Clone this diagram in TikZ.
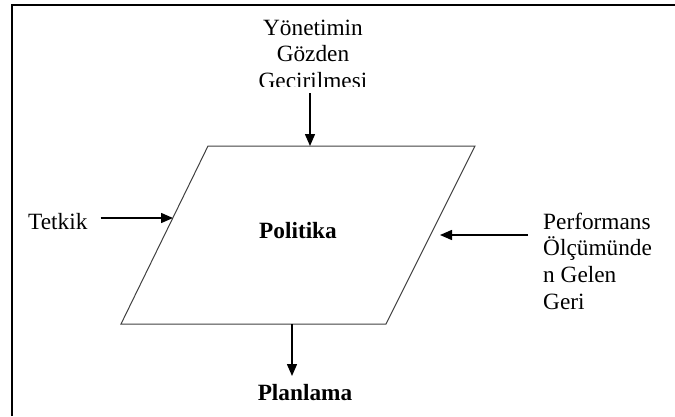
\documentclass[tikz,border=0pt]{standalone}
\usepackage{fontspec}
\setmainfont{Liberation Serif}
\usetikzlibrary{arrows.meta}
\begin{document}
\begin{tikzpicture}[x=1pt,y=-1pt,
  lbl/.style={inner sep=0pt, font=\fontsize{23.3}{26.7}\selectfont},
  boldlbl/.style={lbl, font=\fontsize{23.3}{26.7}\selectfont\bfseries},
  conn/.style={line width=1.5pt, -{Triangle[length=12pt,width=10pt]}},
  pshape/.style={draw=black!75, line width=1pt},
  frame/.style={line width=2pt}]
\useasboundingbox (0,0) rectangle (675,416);
\draw[frame] (12,416) -- (12,5) -- (675,5);
% parallelogram
\coordinate (p1) at (208,146);
\coordinate (p2) at (475,146);
\coordinate (p3) at (386,324);
\coordinate (p4) at (121,324);
\draw[pshape] (p1) -- (p2) -- (p3) -- (p4) -- cycle;
\node[boldlbl, anchor=base] (politika) at (298,238) {Politika};
% top label (clipped as in the reference)
\begin{scope}
\clip (0,0) rectangle (675,86);
\node[lbl, anchor=north, align=center] (yonetim) at (313,19.5) {Yönetimin\\Gözden\\Gecirilmesi};
\end{scope}
\node[lbl, anchor=base west] (tetkik) at (28,229) {Tetkik};
\node[lbl, anchor=north west, align=left] (perf) at (543,212.5) {Performans\\Ölçümünde\\n Gelen\\Geri};
\node[boldlbl, anchor=base] (planlama) at (305,400) {Planlama};
% connector end points
\coordinate (topin) at (310,146);
\coordinate (topstart) at (310,93);
\coordinate (leftin) at (173,218);
\coordinate (rightin) at (440,235);
\coordinate (botout) at (292,324);
\coordinate (botin) at (292,376);
\draw[conn] (topstart) -- (topin);
\draw[conn] ([xshift=13pt]tetkik.east |- leftin) -- (leftin);
\draw[conn] ([xshift=-15pt]perf.west |- rightin) -- (rightin);
\draw[conn] (botout) -- (botin);
\end{tikzpicture}
\end{document}
